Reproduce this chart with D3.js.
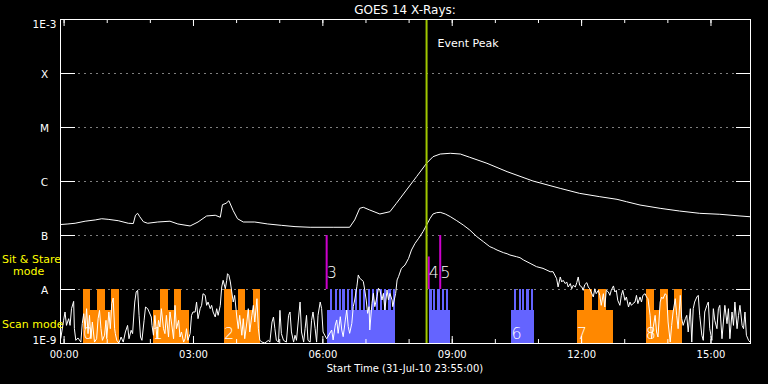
<!DOCTYPE html>
<html>
<head>
<meta charset="utf-8">
<script src="https://cdn.jsdelivr.net/npm/d3@7"></script>
<style>
  html, body { margin: 0; padding: 0; background: #000; }
  svg { display: block; font-family: "DejaVu Sans", sans-serif; }
  .obs-label { font-family: "DejaVu Sans ExtraLight", "DejaVu Sans", sans-serif; font-weight: 200; }
</style>
</head>
<body>
<svg id="chart" width="768" height="384"></svg>
<script>
// Times are minutes after the start time (31-Jul-10 23:55:00 UT)
// Flux values in units of 1e-9 W/m^2

// GOES 14 long channel (1-8 A)
const longSeries = [
  [0,156],[11,160],[21,165],[35,180],[49,190],[58,200],[67,195],[81,184],[95,165],[102,163],
  [105,232],[108,252],[111,218],[116,176],[122,165],[136,174],[153,180],[164,160],[181,147],[192,174],
  [204,225],[216,232],[223,213],[226,364],[231,386],[235,431],[241,282],[247,200],[255,174],[271,174],
  [289,160],[308,151],[327,143],[348,139],[380,139],[403,139],[410,190],[417,312],[422,326],[431,290],
  [445,245],[459,270],[468,386],[482,680],[496,1200],[510,2130],[519,2820],[529,3160],[543,3260],[557,3160],
  [570,2750],[594,2130],[622,1490],[658,1000],[696,730],[723,590],[751,512],[775,458],[788,414],[807,359],
  [835,312],[862,278],[890,252],[918,242],[946,225],[960,218]
];

// GOES 14 short channel (0.5-4 A)
const shortSeries = [
  [1,1.2],[5,2.63],[7,3.75],[9,2.12],[12,2.82],[14,2.12],[16,4.32],[19,5.9],[20,1.84],[22,1.12],
  [25,1.24],[29,1.04],[31,2.3],[33,3.49],[35,1.84],[37,4.32],[39,1.49],[41,3.25],[43,1.2],[45,2.45],
  [48,1.04],[51,1.2],[53,2.82],[55,4.03],[57,1.84],[59,1.12],[62,1.39],[64,2.63],[65,1.2],[68,3.75],
  [70,1.84],[72,5.35],[74,6.81],[76,1.84],[77,1.49],[79,1.12],[82,1.0],[85,1.29],[88,1.04],[91,1.6],
  [94,2.12],[96,1.2],[99,1.72],[101,1.49],[103,3.75],[104,5.74],[106,8.8],[108,9.45],[110,3.25],[112,1.29],
  [114,1.12],[117,2.63],[119,4.64],[122,4.32],[124,3.75],[127,3.03],[128,2.12],[130,1.39],[132,3.25],[135,1.2],
  [137,2.63],[139,1.98],[141,4.32],[144,1.84],[146,1.49],[148,3.25],[151,1.29],[153,3.75],[155,2.45],[158,1.2],
  [160,4.98],[162,1.84],[165,2.63],[167,1.29],[169,1.6],[172,1.04],[174,1.2],[176,1.84],[178,1.12],[181,1.49],
  [183,3.25],[185,3.75],[188,3.75],[190,5.74],[192,2.82],[195,4.32],[197,4.98],[199,8.19],[202,7.63],[204,4.98],
  [206,5.74],[209,4.32],[211,4.98],[213,3.75],[216,3.03],[218,4.32],[220,3.25],[223,4.98],[225,10.9],[227,14.5],
  [230,10.1],[232,14.5],[233,19.2],[235,17.9],[237,13.5],[239,8.8],[241,5.74],[243,7.63],[246,3.03],[248,1.84],
  [250,3.25],[253,1.39],[255,2.82],[257,1.2],[260,2.45],[262,4.32],[264,1.6],[267,3.25],[269,4.98],[271,2.45],
  [274,6.62],[276,1.84],[278,1.12],[281,1.04],[285,1.0],[290,1.12],[292,1.04],[295,2.45],[297,3.03],[299,1.84],
  [301,1.12],[304,1.04],[306,4.03],[308,1.49],[311,1.12],[315,1.04],[318,3.25],[320,3.75],[322,1.6],[325,1.04],
  [327,1.39],[329,1.12],[332,3.03],[334,5.74],[336,1.6],[339,1.04],[341,1.84],[343,3.25],[345,1.12],[348,1.04],
  [350,2.63],[352,3.75],[355,1.84],[357,1.04],[359,3.25],[362,5.74],[364,4.32],[366,1.6],[371,1.2],[378,1.74],
  [380,1.14],[383,2.15],[385,2.67],[387,1.51],[390,3.07],[392,1.74],[394,1.31],[397,2.67],[399,4.08],[401,2.01],
  [403,1.51],[406,2.31],[408,4.71],[410,6.25],[413,11.0],[415,18.2],[417,15.8],[420,14.7],[422,13.7],[424,9.58],
  [426,6.25],[428,3.54],[430,4.71],[431,1.74],[434,5.43],[436,8.32],[438,4.71],[441,7.21],[443,10.3],[445,9.58],
  [448,6.25],[450,8.32],[452,4.08],[455,9.58],[457,6.25],[459,8.32],[462,6.25],[463,4.71],[465,6.25],[467,8.32],
  [469,14.7],[471,16.9],[475,24.1],[480,27.8],[485,37],[489,52.7],[494,70.1],[499,86.8],[505,115],[510,153],
  [515,204],[519,245],[524,259],[529,263],[536,245],[543,219],[552,184],[561,153],[570,124],[580,93.1],
  [589,75.3],[598,60.8],[603,57],[608,52.7],[617,47.1],[622,45],[626,42.6],[635,39.7],[640,38],[645,34.4],
  [654,29.9],[663,25.9],[672,24.1],[682,20.9],[686,20.9],[691,15.5],[693,10.9],[696,16.7],[698,13.5],[700,14.5],
  [703,12.6],[705,13.5],[707,10.9],[710,12.6],[712,10.1],[714,11.7],[717,10.9],[719,13.1],[721,16.7],[723,11.7],
  [726,10.9],[728,9.45],[730,12.0],[733,13.1],[735,10.9],[737,10.1],[739,8.8],[742,7.11],[744,10.1],[746,8.19],
  [749,9.45],[751,7.63],[753,4.98],[756,8.19],[758,4.64],[760,9.45],[763,8.8],[765,7.63],[767,9.45],[770,11.4],
  [772,8.8],[774,9.45],[776,6.17],[779,4.98],[781,7.63],[783,9.45],[786,6.17],[788,7.11],[791,4.64],[793,5.74],
  [795,4.98],[797,5.35],[800,5.74],[802,7.63],[804,5.35],[807,7.11],[809,5.74],[811,7.63],[814,8.19],[816,7.11],
  [818,6.62],[821,3.25],[823,1.2],[825,1.84],[828,3.25],[830,1.6],[832,1.29],[835,5.74],[837,7.11],[839,6.62],
  [842,8.19],[844,7.63],[846,2.45],[849,1.04],[851,2.12],[853,3.75],[856,6.62],[858,3.25],[860,1.84],[863,7.63],
  [865,2.82],[867,2.12],[870,2.82],[872,3.25],[874,1.6],[877,4.32],[879,1.04],[881,4.32],[883,5.74],[886,7.11],
  [888,7.63],[890,3.25],[893,1.39],[895,1.12],[897,3.75],[900,4.98],[902,5.74],[904,1.84],[907,1.12],[909,4.32],
  [911,2.63],[914,1.84],[916,4.32],[918,4.98],[921,1.2],[923,2.45],[925,4.98],[928,2.28],[930,4.32],[932,1.2],
  [935,3.75],[937,2.12],[939,5.74],[942,1.84],[944,3.25],[946,4.98],[949,2.12],[951,1.84],[953,3.75],[955,1.39],
  [958,1.12],[960,1.04]
];

// y axis: flux levels and their labels
const fluxLevels = [1e-9, 1e-8, 1e-7, 1e-6, 1e-5, 1e-4, 1e-3];
const fluxLabels = ['1E-9', 'A', 'B', 'C', 'M', 'X', '1E-3'];

// scan mode observations (minutes), "coarse" = orange, "fine" = blue
const scanLabels = ['0', '1', '2', '', '', '6', '7', '8'];
const scanKinds = ['coarse', 'coarse', 'coarse', 'fine', 'fine', 'fine', 'coarse', 'coarse'];
const scanStart = [32, 129, 228, 371, 513, 628, 719, 815];
const scanEnd = [82, 180, 278, 466, 543, 660, 769, 865];
const scanRasters = [
  [[32, 42], [52, 62], [71, 82]],
  [[139, 150], [159, 169]],
  [[228, 239], [248, 258], [268, 278]],
  [[376, 379], [382, 385], [388, 391], [393, 396], [399, 402], [405, 408], [410, 413], [416, 419],
   [422, 425], [428, 431], [434, 437], [439, 442], [445, 448], [451, 454], [457, 460], [463, 466]],
  [[514, 517], [519, 522], [525, 528], [531, 534], [537, 540]],
  [[632, 635], [638, 641], [643, 646], [649, 652], [655, 658]],
  [[729, 740], [749, 760]],
  [[815, 826], [835, 846], [854, 865]]
];
const scanBaseFlux = 4e-9;
const scanRasterFlux = 1e-8;

// sit & stare observations
const stareLabels = ['3', '4', '5'];
const stareTimes = [371, 513, 529];
const stareTopFlux = [1e-7, 4e-8, 1e-7];
const stareBaseFlux = 1e-8;

const eventPeak = 510;
const startTime = Date.UTC(2010, 6, 31, 23, 55);
const endTime = Date.UTC(2010, 7, 1, 15, 55);

// ---- layout ----
const plot = { left: 60, right: 750, top: 19, bottom: 343 };
const toDate = m => new Date(startTime + m * 60000);

const svg = d3.select('#chart');
svg.append('rect').attr('width', 768).attr('height', 384).attr('fill', '#000');

const x = d3.scaleUtc()
  .domain([new Date(startTime), new Date(endTime)])
  .range([plot.left, plot.right]);

const y = d3.scaleLog()
  .domain([1e-9, 1e-3])
  .range([plot.bottom, plot.top]);

svg.append('clipPath').attr('id', 'plot-clip')
  .append('rect')
  .attr('x', plot.left).attr('y', plot.top)
  .attr('width', plot.right - plot.left).attr('height', plot.bottom - plot.top + 1);

const colors = { coarse: '#ff8800', fine: '#6464ff' };

// dotted level lines
svg.append('g')
  .selectAll('line')
  .data(fluxLevels.slice(1, -1))
  .join('line')
  .attr('x1', plot.left + 0.5)
  .attr('x2', plot.right)
  .attr('y1', d => Math.round(y(d)) + 0.5)
  .attr('y2', d => Math.round(y(d)) + 0.5)
  .attr('stroke', '#fff')
  .attr('stroke-dasharray', '1,5');

// scan mode blocks
const scans = svg.append('g').attr('shape-rendering', 'crispEdges');
scanStart.forEach((s, i) => {
  const g = scans.append('g').attr('fill', colors[scanKinds[i]]);
  g.append('rect')
    .attr('x', x(toDate(s)))
    .attr('width', x(toDate(scanEnd[i])) - x(toDate(s)))
    .attr('y', y(scanBaseFlux))
    .attr('height', y(1e-9) - y(scanBaseFlux));
  g.selectAll('rect.raster')
    .data(scanRasters[i])
    .join('rect')
    .attr('class', 'raster')
    .attr('x', d => x(toDate(d[0])))
    .attr('width', d => x(toDate(d[1])) - x(toDate(d[0])))
    .attr('y', y(scanRasterFlux))
    .attr('height', y(1e-9) - y(scanRasterFlux));
});

// sit & stare markers
svg.append('g')
  .selectAll('line')
  .data(stareTimes)
  .join('line')
  .attr('x1', d => x(toDate(d)))
  .attr('x2', d => x(toDate(d)))
  .attr('y1', y(stareBaseFlux))
  .attr('y2', (d, i) => y(stareTopFlux[i]))
  .attr('stroke', '#cc00cc')
  .attr('stroke-width', 2);

// flux curves
const line = d3.line()
  .x(d => x(toDate(d[0])))
  .y(d => y(d[1] * 1e-9));

const curves = svg.append('g').attr('clip-path', 'url(#plot-clip)');
curves.append('path')
  .datum(shortSeries)
  .attr('fill', 'none')
  .attr('stroke', '#fff')
  .attr('stroke-width', 1)
  .attr('d', line);
curves.append('path')
  .datum(longSeries)
  .attr('fill', 'none')
  .attr('stroke', '#fff')
  .attr('stroke-width', 1)
  .attr('d', line);

// labels for observations
svg.append('g')
  .attr('class', 'obs-label')
  .selectAll('text')
  .data(scanStart)
  .join('text')
  .attr('x', d => x(toDate(d)))
  .attr('y', 339)
  .attr('fill', '#fff')
  .style('font-size', '16px')
  .text((d, i) => scanLabels[i]);

svg.append('g')
  .attr('class', 'obs-label')
  .selectAll('text')
  .data(stareTimes)
  .join('text')
  .attr('x', d => x(toDate(d)))
  .attr('y', 278)
  .attr('fill', '#fff')
  .style('font-size', '16px')
  .text((d, i) => stareLabels[i]);

// event peak marker
svg.append('line')
  .attr('x1', x(toDate(eventPeak)))
  .attr('x2', x(toDate(eventPeak)))
  .attr('y1', plot.top)
  .attr('y2', plot.bottom)
  .attr('stroke', '#a0c800')
  .attr('stroke-width', 2);

svg.append('text')
  .attr('x', x(toDate(eventPeak)) + 11)
  .attr('y', 46.5)
  .attr('fill', '#fff')
  .style('font-size', '11px')
  .text('Event Peak');

// frame
svg.append('rect')
  .attr('x', plot.left + 0.5)
  .attr('y', plot.top + 0.5)
  .attr('width', plot.right - plot.left)
  .attr('height', plot.bottom - plot.top)
  .attr('fill', 'none')
  .attr('stroke', '#fff');

// time axes (hourly minor, 3-hourly major)
const hourly = d3.utcHour.every(1);
const threeHourly = d3.utcHour.every(3);

function styleAxis(g) {
  g.select('.domain').remove();
  g.selectAll('line').attr('stroke', '#fff');
  g.selectAll('text').attr('fill', '#fff').style('font-size', '10px').style('font-family', '"DejaVu Sans", sans-serif');
}

svg.append('g')
  .attr('transform', `translate(0,${plot.top})`)
  .call(d3.axisTop(x).ticks(hourly).tickSize(-4).tickFormat(''))
  .call(styleAxis);
svg.append('g')
  .attr('transform', `translate(0,${plot.top})`)
  .call(d3.axisTop(x).ticks(threeHourly).tickSize(-7).tickFormat(''))
  .call(styleAxis);
svg.append('g')
  .attr('transform', `translate(0,${plot.bottom})`)
  .call(d3.axisBottom(x).ticks(hourly).tickSize(-4).tickFormat(''))
  .call(styleAxis);
svg.append('g')
  .attr('transform', `translate(0,${plot.bottom})`)
  .call(d3.axisBottom(x).ticks(threeHourly).tickSize(-7).tickPadding(8).tickFormat(d3.utcFormat('%H:%M')))
  .call(styleAxis);

// flux axes (ticks inward on both sides)
const yTickPos = fluxLevels.slice(1, -1);
svg.append('g')
  .attr('transform', `translate(${plot.left},0)`)
  .call(d3.axisLeft(y).tickValues(yTickPos).tickSize(-15).tickFormat(''))
  .call(styleAxis);
svg.append('g')
  .attr('transform', `translate(${plot.right},0)`)
  .call(d3.axisRight(y).tickValues(yTickPos).tickSize(-14).tickFormat(''))
  .call(styleAxis);

svg.append('g')
  .selectAll('text')
  .data(fluxLevels)
  .join('text')
  .attr('x', 44.5)
  .attr('y', (d, i) => {
    if (i === 0) return y(d) + 0.5;
    if (i === fluxLevels.length - 1) return y(d) + 8.5;
    return y(d) + 4.5;
  })
  .attr('text-anchor', 'middle')
  .attr('fill', '#fff')
  .style('font-size', '10.5px')
  .text((d, i) => fluxLabels[i]);

// title and axis caption
svg.append('text')
  .attr('x', (plot.left + plot.right) / 2)
  .attr('y', 14)
  .attr('text-anchor', 'middle')
  .attr('fill', '#fff')
  .style('font-size', '12px')
  .text('GOES 14 X-Rays:');

svg.append('text')
  .attr('x', (plot.left + plot.right) / 2)
  .attr('y', 372)
  .attr('text-anchor', 'middle')
  .attr('fill', '#fff')
  .style('font-size', '10px')
  .text('Start Time (31-Jul-10 23:55:00)');

// mode captions
const modeText = svg.append('g').attr('fill', '#ffff00').style('font-size', '11px');
modeText.append('text').attr('x', 2).attr('y', 263).text('Sit & Stare');
modeText.append('text').attr('x', 13).attr('y', 275).text('mode');
modeText.append('text').attr('x', 2).attr('y', 328).text('Scan mode');
</script>
</body>
</html>
